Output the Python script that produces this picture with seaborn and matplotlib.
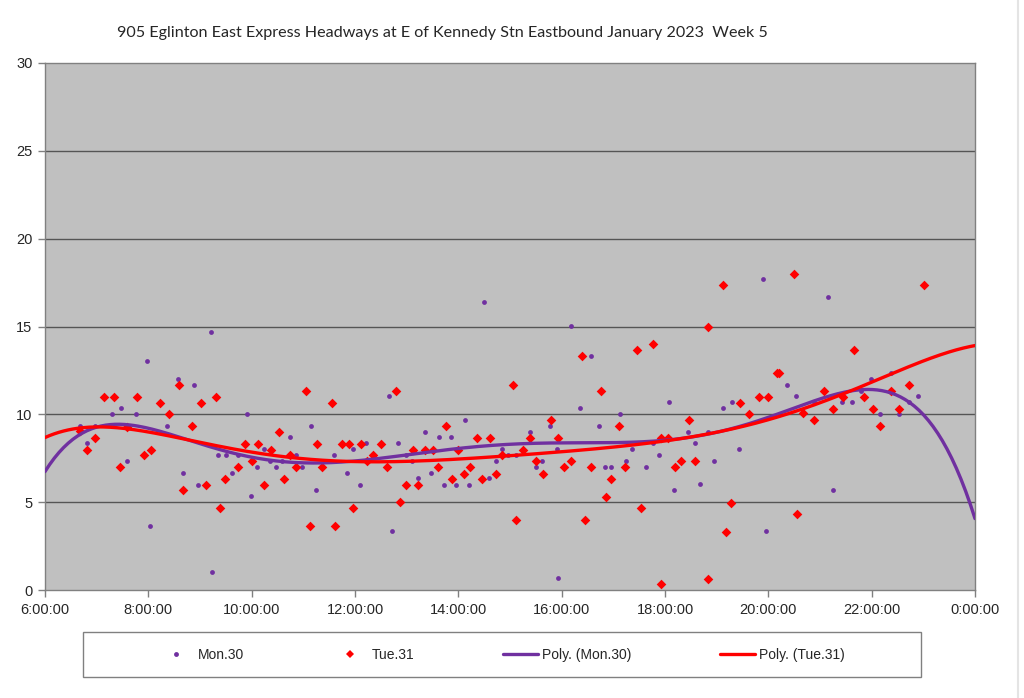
"""
905 Eglinton East Express headways at E of Kennedy Stn, eastbound, Jan 2023 week 5.
Scatter of headways by time of day with 6th-order polynomial trendlines.
"""

import numpy as np
import pandas as pd
import matplotlib
matplotlib.use("Agg")
import matplotlib.pyplot as plt
from matplotlib.lines import Line2D
from matplotlib.patches import Rectangle
import seaborn as sns

TITLE = "905 Eglinton East Express Headways at E of Kennedy Stn Eastbound January 2023  Week 5"

# hours after midnight / headway in minutes
mon_hours = [6.68, 6.82, 6.97, 7.30, 7.48, 7.59, 7.76, 7.98, 8.04, 8.36, 8.57, 8.68, 8.88, 8.97,
             9.21, 9.24, 9.35, 9.50, 9.61, 9.73, 9.90, 9.99, 10.10, 10.24, 10.36, 10.48, 10.59,
             10.74, 10.86, 10.98, 11.14, 11.24, 11.48, 11.60, 11.84, 11.97,
             12.09, 12.22, 12.65, 12.71, 12.84, 12.98, 13.10, 13.21, 13.35, 13.47, 13.62, 13.72,
             13.86, 13.95, 14.12, 14.21, 14.49, 14.59, 14.72, 14.85,
             14.97, 15.11, 15.38, 15.50, 15.62, 15.78, 15.91, 15.92, 16.18, 16.35, 16.56, 16.72,
             16.84, 16.96, 17.12, 17.24, 17.37, 17.63,
             17.77, 17.89, 18.08, 18.17, 18.45, 18.58, 18.68, 18.83, 18.95, 19.12, 19.30, 19.43,
             19.90, 19.95, 20.36, 20.54,
             20.88, 21.16, 21.25, 21.43, 21.61, 21.80, 21.99, 22.17, 22.37, 22.53, 22.72, 22.90]
mon_headway = [9.35, 8.35, 9.35, 10.0, 10.36, 7.34, 10.0, 13.03, 3.66, 9.35, 12.0, 6.68, 11.69, 6.0,
               14.70, 1.02, 7.70, 7.70, 6.68, 7.70, 10.0, 5.33, 7.02, 8.03, 7.34, 7.02, 7.34,
               8.69, 7.70, 7.02, 9.35, 5.69, 7.34, 7.70, 6.68, 8.03,
               6.0, 8.35, 11.02, 3.36, 8.35, 7.70, 7.34, 6.36, 9.01, 6.68, 8.69, 6.0,
               8.69, 6.0, 9.68, 6.0, 16.37, 6.36, 7.34, 8.03,
               7.70, 7.70, 9.01, 7.02, 7.34, 9.35, 8.03, 0.66, 15.01, 10.36, 13.34, 9.35,
               7.02, 7.02, 10.0, 7.34, 8.02, 7.02,
               8.35, 7.70, 10.70, 5.69, 9.01, 8.35, 6.01, 9.01, 7.34, 10.36, 10.70, 8.03,
               17.70, 3.36, 11.69, 11.02,
               10.70, 16.69, 5.69, 10.70, 10.70, 11.33, 12.0, 10.0, 12.35, 10.0, 10.68, 11.02]

tue_hours = [6.68, 6.82, 6.97, 7.15, 7.34, 7.45, 7.59, 7.79, 7.92, 8.06, 8.23, 8.40, 8.59, 8.68,
             8.85, 9.02, 9.12, 9.30, 9.38, 9.48, 9.73, 9.88, 10.00, 10.13, 10.24, 10.37, 10.52,
             10.62, 10.75, 10.86, 11.06, 11.12, 11.26, 11.37, 11.55, 11.61, 11.75, 11.88, 11.96,
             12.12, 12.23, 12.35, 12.50, 12.61, 12.79, 12.88, 12.99, 13.13, 13.21, 13.35, 13.50,
             13.60, 13.76, 13.87, 14.00, 14.11, 14.23, 14.37, 14.46, 14.61, 14.73, 14.85,
             15.05, 15.12, 15.25, 15.39, 15.51, 15.63, 15.79, 15.93, 16.05, 16.18, 16.39, 16.46,
             16.57, 16.76, 16.86, 16.95, 17.11, 17.23, 17.46, 17.53, 17.77,
             17.92, 17.92, 18.06, 18.19, 18.30, 18.47, 18.59, 18.84, 18.84, 19.13, 19.19, 19.28,
             19.46, 19.62, 19.81, 19.99, 20.16, 20.21, 20.49, 20.56, 20.68,
             20.89, 21.08, 21.26, 21.45, 21.66, 21.85, 22.02, 22.17, 22.37, 22.53, 22.73, 23.01]
tue_headway = [9.03, 7.99, 8.65, 10.98, 10.98, 7.0, 9.3, 10.98, 7.66, 7.99, 10.66, 10.0, 11.65, 5.67,
               9.33, 10.66, 5.99, 10.98, 4.67, 6.34, 7.0, 8.31, 7.33, 8.31, 5.99, 7.99, 8.97,
               6.34, 7.66, 7.0, 11.31, 3.66, 8.31, 7.0, 10.66, 3.66, 8.31, 8.31, 4.67,
               8.31, 7.33, 7.66, 8.31, 7.0, 11.31, 4.99, 5.99, 7.99, 5.99, 7.99, 7.99,
               7.0, 9.33, 6.34, 7.97, 6.63, 7.0, 8.65, 6.33, 8.65, 6.63, 7.66,
               11.65, 3.98, 7.99, 8.65, 7.33, 6.63, 9.66, 8.65, 7.0, 7.33, 13.30, 3.98,
               7.0, 11.31, 5.29, 6.33, 9.33, 7.0, 13.66, 4.67, 13.98,
               8.65, 0.32, 8.65, 7.0, 7.33, 9.66, 7.33, 14.97, 0.63, 17.34, 3.32, 4.97,
               10.66, 10.0, 10.98, 10.98, 12.33, 12.33, 17.97, 4.31, 10.05,
               9.66, 11.33, 10.32, 10.98, 13.66, 10.98, 10.32, 9.33, 11.33, 10.32, 11.65, 17.34]

x_ticks = [6, 8, 10, 12, 14, 16, 18, 20, 22, 24]
x_tick_labels = ["6:00:00", "8:00:00", "10:00:00", "12:00:00", "14:00:00",
                 "16:00:00", "18:00:00", "20:00:00", "22:00:00", "0:00:00"]
y_ticks = [0, 5, 10, 15, 20, 25, 30]

MON_COLOR = "#7030A0"
TUE_COLOR = "#FF0000"


def poly_trend(hours, values, order=6):
    """Least-squares polynomial trendline, like Excel's Poly. trendline."""
    h = np.asarray(hours)
    coef = np.polyfit(h - 15, np.asarray(values), order)
    grid = np.linspace(6, 24, 400)
    return pd.DataFrame({"hour": grid, "headway": np.polyval(coef, grid - 15)})


sns.set_style("ticks")
plt.rcParams["font.family"] = ["Liberation Sans", "DejaVu Sans"]

mon = pd.DataFrame({"hour": mon_hours, "headway": mon_headway})
tue = pd.DataFrame({"hour": tue_hours, "headway": tue_headway})

fig = plt.figure(figsize=(10.24, 6.98), dpi=100)
ax = fig.add_axes([45 / 1024, 108 / 698, 930 / 1024, 527 / 698])
ax.set_facecolor("#C0C0C0")

for y in y_ticks[1:-1]:
    ax.axhline(y, color="#555555", lw=1, zorder=1)

sns.scatterplot(data=mon, x="hour", y="headway", color=MON_COLOR, marker="o",
                s=12, linewidth=0, ax=ax, zorder=3)
sns.scatterplot(data=tue, x="hour", y="headway", color=TUE_COLOR, marker="D",
                s=24, linewidth=0, ax=ax, zorder=3)

sns.lineplot(data=poly_trend(mon_hours, mon_headway), x="hour", y="headway",
             color=MON_COLOR, lw=2.4, ax=ax, zorder=4)
sns.lineplot(data=poly_trend(tue_hours, tue_headway), x="hour", y="headway",
             color=TUE_COLOR, lw=2.4, ax=ax, zorder=4)

ax.set_xlim(6, 24)
ax.set_ylim(0, 30)
ax.set_xticks(x_ticks)
ax.set_xticklabels(x_tick_labels)
ax.set_yticks(y_ticks)
ax.set_xlabel("")
ax.set_ylabel("")
ax.tick_params(axis="both", labelsize=10.5, length=5, width=1, color="#808080", pad=4)
for side in ["left", "bottom", "top", "right"]:
    ax.spines[side].set_visible(True)
    ax.spines[side].set_color("#808080")
    ax.spines[side].set_linewidth(1)

fig.text(442 / 1024, 1 - 33 / 698, TITLE, ha="center", va="center",
         fontsize=11.6, family=["Lato", "DejaVu Sans"])

# legend box
fig.patches.append(Rectangle((83 / 1024, 1 - 677 / 698), 838 / 1024, 45 / 698,
                             transform=fig.transFigure, facecolor="white",
                             edgecolor="#808080", lw=1))
handles = [
    Line2D([], [], ls="none", marker="o", ms=3.5, color=MON_COLOR, mew=0),
    Line2D([], [], ls="none", marker="D", ms=4.5, color=TUE_COLOR, mew=0),
    Line2D([], [], color=MON_COLOR, lw=2.4),
    Line2D([], [], color=TUE_COLOR, lw=2.4),
]
labels = ["Mon.30", "Tue.31", "Poly. (Mon.30)", "Poly. (Tue.31)"]
fig.legend(handles, labels, loc="center", bbox_to_anchor=(502 / 1024, 1 - 655 / 698),
           ncol=4, frameon=False, fontsize=10, handlelength=2.5,
           handletextpad=0.3, columnspacing=6.4)

# faint outer chart border on the right
fig.add_artist(Line2D([1018 / 1024, 1018 / 1024], [0, 1], transform=fig.transFigure,
                      color="#E4E4E4", lw=1.5))

fig.savefig("out.png", dpi=100)
plt.close(fig)
